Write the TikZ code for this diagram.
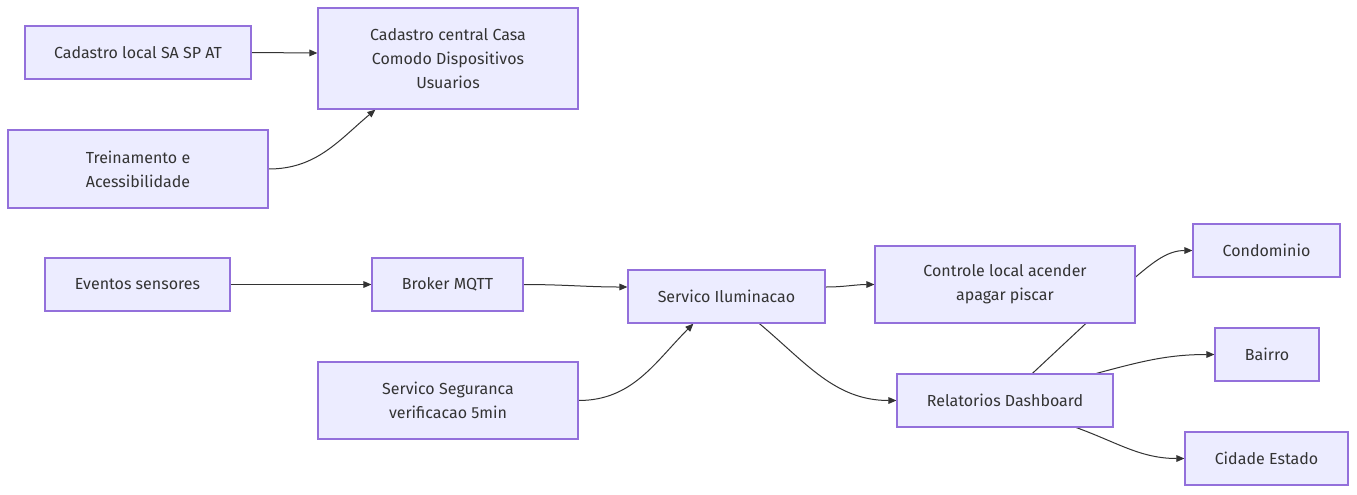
\documentclass[tikz,border=0pt]{standalone}
\usepackage{fontspec}
\setmainfont{Fira Sans}
\usetikzlibrary{arrows.meta,calc,backgrounds}
\definecolor{boxfill}{HTML}{ECECFF}
\definecolor{boxline}{HTML}{9370DB}
\definecolor{edgec}{HTML}{333333}
\begin{document}
\begin{tikzpicture}[x=0.75pt,y=0.75pt,
  box/.style={draw=boxline,fill=boxfill,line width=0.9pt,inner sep=0pt,align=center,
    text=edgec,font=\fontsize{12}{18}\selectfont},
  edge/.style={draw=edgec,line width=0.75pt,-{Triangle[length=6pt,width=5pt]}},
  plain/.style={draw=edgec,line width=0.75pt}]
\useasboundingbox (0,0) rectangle (1357,-494);
\node[box,minimum width=169.5pt,minimum height=39.75pt] (cl) at (138,-52.5) {Cadastro local SA SP AT};
\node[box,minimum width=195pt,minimum height=75.75pt] (cc) at (448,-58.5) {Cadastro central Casa\\Comodo Dispositivos\\Usuarios};
\node[box,minimum width=195pt,minimum height=58.5pt] (tr) at (138,-169) {Treinamento e\\Acessibilidade};
\node[box,minimum width=138.75pt,minimum height=39.75pt] (ev) at (137.5,-284.5) {Eventos sensores};
\node[box,minimum width=113.25pt,minimum height=39.75pt] (br) at (447.5,-284.5) {Broker MQTT};
\node[box,minimum width=147.75pt,minimum height=39.75pt] (il) at (726.5,-296.5) {Servico Iluminacao};
\node[box,minimum width=195pt,minimum height=57.75pt] (sg) at (448,-400.5) {Servico Seguranca\\verificacao 5min};
\node[box,minimum width=195pt,minimum height=57.75pt] (co) at (1005,-284.5) {Controle local acender\\apagar piscar};
\node[box,minimum width=162pt,minimum height=39.75pt] (rel) at (1005,-400.5) {Relatorios Dashboard};
\node[box,minimum width=110.25pt,minimum height=39.75pt] (cd) at (1266.5,-250.5) {Condominio};
\node[box,minimum width=78pt,minimum height=39.75pt] (ba) at (1267,-354.5) {Bairro};
\node[box,minimum width=122.25pt,minimum height=39.75pt] (ci) at (1266.5,-458.5) {Cidade Estado};
\coordinate (kink) at ($(co.east)+(0,7.5)$);
\begin{pgfonlayer}{background}
\fill[white] (0,0) rectangle (1357,-494);
\draw[edge] (cl.east) -- ($(cc.west)+(0,5.5)$);
\draw[edge] (tr.east) to[out=0,in=-140] ($(cc.south west)+(58,0)$);
\draw[edge] (ev.east) -- (br.west);
\draw[edge] (br.east) to[out=0,in=180] ($(il.west)+(0,9.5)$);
\draw[edge] (sg.east) to[out=0,in=-135] ($(il.south west)+(66,0)$);
\draw[edge] ($(il.south west)+(132,0)$) to[out=-40,in=180] (rel.west);
\draw[edge] ($(il.east)+(0,9.5)$) to[out=0,in=180] (co.west);
\draw[edge] ($(rel.north west)+(136,0)$) -- (kink) to[out=40,in=180] (cd.west);
\draw[edge] ($(rel.north west)+(200,0)$) to[out=15,in=180] (ba.west);
\draw[edge] ($(rel.south west)+(180,0)$) to[out=-20,in=180] (ci.west);
\end{pgfonlayer}
\end{tikzpicture}
\end{document}
